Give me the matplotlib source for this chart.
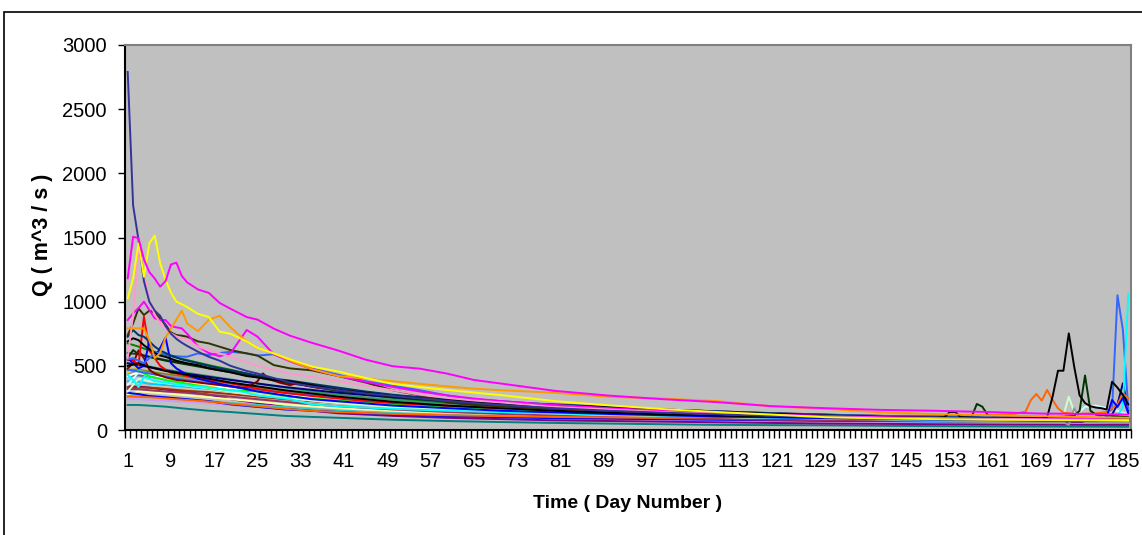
import matplotlib
matplotlib.use("Agg")
import matplotlib.pyplot as plt
from matplotlib.patches import Rectangle

plt.rcParams['font.family'] = ['Liberation Sans', 'DejaVu Sans']

# ---------------- data ----------------
GRID_A = [1, 2, 3, 4, 5, 6, 7, 8, 9, 10, 11, 12, 14, 16, 18, 20, 23, 25, 28, 31,
          35, 40, 45, 50, 55, 60, 65, 70, 80, 90, 100, 110, 120, 130, 140, 150, 160, 170, 180, 186]
GRID_B = [1, 3, 5, 8, 12, 16, 20, 25, 30, 35, 40, 50, 60, 70, 80, 90, 100, 110, 120, 130,
          140, 150, 160, 170, 180, 186]

X_TICK_LABELS = [1, 9, 17, 25, 33, 41, 49, 57, 65, 73, 81, 89, 97, 105, 113, 121, 129,
                 137, 145, 153, 161, 169, 177, 185]
Y_TICKS = [0, 500, 1000, 1500, 2000, 2500, 3000]

q_indigo = [2790, 1750, 1480, 1160, 1000, 930, 890, 810, 750, 710, 680, 655, 610, 570, 540, 500, 460, 440, 405, 370,
            340, 310, 285, 265, 245, 228, 210, 195, 170, 150, 135, 122, 110, 100, 92, 85, 80, 76, 72, 70]
q_magenta = [1182, 1506, 1494, 1330, 1230, 1180, 1117, 1160, 1290, 1304, 1200, 1150, 1095, 1068, 990, 945, 880, 860, 790, 735,
             680, 618, 548, 497, 478, 440, 390, 362, 305, 268, 240, 217, 186, 170, 157, 150, 140, 128, 125, 120]
q_yellow = [1026, 1180, 1455, 1194, 1455, 1515, 1299, 1170, 1070, 1000, 980, 958, 905, 880, 766, 750, 690, 640, 597, 550,
            495, 455, 405, 360, 335, 312, 292, 272, 225, 192, 163, 140, 120, 100, 91, 85, 80, 78, 75, 72]
q_orange = [792, 792, 792, 792, 700, 560, 600, 720, 790, 860, 930, 830, 770, 860, 890, 800, 690, 640, 597, 540,
            475, 420, 400, 380, 360, 340, 322, 310, 290, 258, 245, 225, 185, 165, 138, 125, 115, 108, 100, 95]
q_pink = [560, 900, 1416, 1221, 1000, 900, 831, 790, 753, 730, 715, 700, 649, 620, 597, 570, 530, 500, 470, 440,
          415, 380, 345, 310, 275, 250, 230, 215, 180, 160, 140, 125, 115, 100, 95, 90, 85, 82, 80, 78]
q_magenta2 = [857, 909, 950, 1000, 935, 870, 857, 857, 810, 800, 792, 750, 650, 600, 575, 597, 779, 727, 590, 535,
              475, 420, 375, 335, 300, 270, 245, 225, 195, 170, 150, 135, 120, 110, 100, 95, 90, 85, 85, 80]
q_olive = [740, 831, 948, 896, 930, 915, 870, 820, 760, 740, 735, 727, 690, 675, 649, 623, 597, 580, 506, 480,
           465, 420, 370, 310, 270, 215, 195, 183, 165, 150, 135, 125, 115, 105, 95, 90, 85, 80, 78, 75]
q_black1 = [690, 715, 700, 660, 630, 600, 580, 570, 555, 540, 530, 520, 505, 480, 465, 450, 420, 410, 390, 380,
            350, 310, 290, 262, 245, 232, 220, 210, 192, 175, 155, 140, 125, 112, 102, 95, 90, 85, 82, 80]
q_darknavy = [727, 779, 740, 727, 690, 650, 620, 600, 580, 565, 550, 540, 520, 500, 480, 465, 440, 425, 400, 385,
              360, 330, 300, 275, 255, 240, 228, 215, 200, 180, 160, 145, 130, 118, 105, 100, 95, 90, 86, 84]
q_blue1 = [550, 560, 540, 520, 560, 600, 600, 590, 580, 575, 572, 571, 597, 584, 600, 610, 597, 580, 590, 540,
           480, 430, 380, 345, 310, 270, 240, 225, 195, 175, 160, 145, 130, 120, 110, 105, 100, 95, 92, 90]
q_red = [545, 545, 506, 883, 620, 560, 500, 470, 445, 440, 430, 420, 400, 390, 380, 365, 340, 320, 300, 285,
         265, 245, 225, 210, 200, 190, 180, 170, 155, 140, 128, 118, 110, 100, 95, 90, 85, 82, 80, 78]

d_blue2 = [1, 2, 3, 4, 5, 6, 7, 8, 9, 10, 12, 14, 18, 25, 35, 50, 70, 90, 110, 130, 150, 170, 180, 182, 183, 184, 185, 186]
q_blue2 = [560, 520, 480, 500, 690, 560, 640, 720, 520, 480, 430, 400, 360, 300, 240, 190, 150, 125, 105, 92, 82, 75, 72, 100, 234, 180, 250, 130]

d_darkred = [1, 2, 3, 4, 5, 6, 8, 10, 12, 16, 20, 23, 25, 26, 27, 29, 31, 32, 33, 34, 36, 40, 50, 60, 70, 80, 90, 100,
             110, 120, 130, 140, 150, 160, 170, 180, 186]
q_darkred = [480, 520, 620, 560, 470, 440, 410, 390, 380, 360, 340, 325, 380, 441, 400, 370, 350, 360, 364, 345, 330, 310,
             270, 240, 215, 195, 175, 160, 145, 132, 120, 110, 102, 96, 92, 88, 86]

q_green = [675, 650, 620, 585, 545, 505, 470, 420, 380, 340, 300, 250, 215, 190, 170, 155, 140, 128, 118, 110, 102, 98, 94, 90, 88, 86]

d_darkgreen = [1, 2, 3, 4, 6, 8, 12, 16, 20, 25, 30, 35, 40, 50, 60, 70, 80, 90, 100, 110, 120, 130, 140, 150, 155, 157,
               158, 159, 160, 162, 170, 176, 177, 178, 179, 180, 186]
q_darkgreen = [560, 623, 590, 580, 560, 540, 510, 480, 450, 410, 370, 340, 310, 260, 225, 200, 178, 160, 145, 132, 120, 112,
               105, 100, 98, 100, 203, 182, 117, 100, 96, 110, 150, 425, 150, 120, 100]

d_black2 = [1, 3, 5, 8, 12, 16, 20, 25, 30, 35, 40, 50, 60, 70, 80, 90, 100, 110, 120, 130, 140, 150, 152, 153, 154, 155,
            160, 170, 171, 172, 173, 174, 175, 176, 177, 178, 179, 180, 181, 182, 183, 184, 185, 186]
q_black2 = [500, 520, 490, 460, 430, 400, 370, 340, 310, 285, 260, 220, 190, 170, 150, 135, 122, 112, 105, 100, 96, 92, 100,
            140, 140, 100, 92, 90, 100, 260, 462, 462, 753, 493, 270, 210, 185, 175, 170, 160, 376, 330, 273, 200]

d_orange2 = [1, 5, 10, 15, 20, 25, 30, 35, 40, 50, 60, 70, 80, 90, 100, 110, 120, 130, 140, 150, 160, 165, 166, 167, 168,
             169, 170, 171, 172, 173, 174, 176, 180, 182, 184, 185, 186]
q_orange2 = [260, 255, 240, 225, 205, 185, 165, 150, 140, 125, 115, 108, 102, 98, 95, 100, 105, 108, 110, 112, 115, 125, 135,
             143, 234, 281, 229, 312, 234, 169, 135, 125, 130, 140, 200, 286, 247]

d_cyan = [1, 2, 3, 4, 5, 6, 8, 10, 14, 18, 22, 25, 31, 35, 40, 50, 60, 70, 80, 90, 100, 110, 120, 130, 140, 150, 160,
          170, 175, 180, 183, 184, 185, 186]
q_cyan = [430, 390, 335, 415, 400, 380, 370, 355, 340, 320, 300, 270, 240, 200, 185, 165, 150, 140, 130, 120, 110, 102, 96,
          90, 85, 82, 80, 78, 80, 120, 100, 110, 180, 1060]

d_blue3 = [1, 5, 10, 20, 30, 40, 50, 60, 70, 80, 90, 100, 110, 120, 130, 140, 150, 160, 170, 180, 182, 183, 184, 185, 186]
q_blue3 = [470, 440, 400, 340, 290, 250, 215, 190, 170, 155, 140, 128, 118, 110, 102, 96, 92, 88, 85, 82, 140, 160, 1050, 780, 160]

d_navy = [1, 5, 10, 20, 30, 40, 50, 60, 70, 80, 90, 100, 110, 120, 130, 140, 150, 160, 170, 180, 182, 183, 184, 185, 186]
q_navy = [520, 490, 450, 390, 335, 290, 255, 225, 200, 180, 165, 150, 138, 125, 115, 106, 98, 92, 86, 80, 80, 120, 200, 364, 150]

q_teal = [195, 195, 190, 182, 165, 150, 140, 125, 110, 102, 95, 80, 70, 62, 55, 50, 45, 40, 38, 36, 33, 30, 28, 27, 26, 25]
q_bluelow = [290, 280, 265, 255, 240, 225, 200, 180, 160, 150, 140, 120, 108, 100, 92, 88, 84, 80, 76, 72, 70, 68, 66, 64, 62, 60]
q_purple = [340, 338, 330, 315, 295, 275, 240, 210, 180, 150, 130, 110, 95, 85, 75, 70, 65, 60, 55, 50, 48, 45, 43, 42, 40, 40]
q_plum = [320, 318, 310, 300, 290, 275, 260, 240, 220, 200, 185, 160, 140, 125, 112, 100, 92, 85, 80, 76, 72, 70, 68, 66, 64, 62]
q_brown = [330, 332, 330, 320, 305, 295, 280, 260, 240, 225, 210, 185, 165, 150, 138, 128, 120, 113, 106, 100, 96, 92, 90, 88, 86, 85]
q_sky = [380, 375, 360, 350, 335, 320, 300, 280, 260, 240, 220, 190, 170, 155, 142, 130, 120, 112, 105, 100, 96, 92, 90, 88, 86, 85]
q_gold = [450, 480, 420, 400, 370, 345, 320, 290, 265, 240, 220, 190, 170, 150, 135, 125, 115, 108, 100, 95, 90, 86, 82, 80, 78, 76]
q_lightyellow = [280, 300, 295, 285, 270, 255, 240, 220, 200, 185, 170, 150, 135, 122, 112, 104, 98, 92, 88, 84, 80, 78, 76, 74, 72, 70]
q_lavender = [240, 240, 235, 228, 218, 208, 195, 180, 165, 150, 140, 120, 105, 95, 88, 82, 78, 74, 70, 66, 63, 60, 58, 56, 55, 54]
q_aqua = [270, 268, 260, 250, 238, 225, 210, 195, 180, 165, 152, 132, 118, 108, 100, 94, 88, 82, 78, 74, 70, 66, 62, 60, 58, 56]
q_seagreen = [520, 510, 495, 470, 445, 420, 395, 360, 330, 300, 275, 235, 205, 182, 165, 150, 138, 127, 118, 110, 103, 97, 93, 90, 87, 85]
q_bluegray = [420, 425, 415, 400, 380, 360, 340, 310, 285, 260, 240, 205, 180, 160, 145, 132, 122, 114, 107, 100, 95, 90, 86, 83, 80, 78]
q_tan = [360, 370, 360, 345, 330, 315, 295, 270, 250, 230, 210, 180, 160, 145, 132, 120, 110, 102, 96, 90, 86, 82, 80, 78, 76, 74]
q_paleblue = [400, 410, 400, 385, 365, 345, 325, 295, 270, 245, 225, 195, 172, 155, 140, 128, 118, 110, 103, 97, 92, 88, 85, 82, 80, 78]
q_olive2 = [470, 470, 455, 435, 410, 385, 360, 330, 300, 275, 250, 215, 190, 170, 155, 142, 130, 120, 112, 105, 100, 95, 90, 88, 86, 84]
q_gray80 = [600, 590, 570, 545, 515, 485, 455, 415, 380, 350, 320, 270, 232, 205, 185, 168, 152, 140, 128, 118, 110, 104, 98, 94, 90, 88]

d_white = [1, 3, 5, 8, 12, 16, 20, 25, 30, 35, 40, 50, 60, 70, 80, 90, 100, 110, 120, 130, 140, 150, 160, 162, 163, 164, 165, 170, 180, 186]
q_white = [420, 450, 430, 400, 375, 355, 320, 295, 270, 250, 235, 210, 190, 170, 155, 145, 135, 128, 120, 115, 110, 105, 100, 100, 117, 117, 100, 98, 95, 92]

d_gray = [1, 3, 5, 8, 12, 16, 20, 25, 30, 40, 50, 60, 70, 80, 90, 100, 110, 120, 130, 140, 150, 160, 170, 174, 175, 176, 177, 178, 186]
q_gray = [430, 470, 440, 425, 400, 375, 350, 320, 290, 250, 215, 190, 170, 150, 135, 120, 110, 100, 90, 80, 70, 62, 58, 60, 40, 170, 90, 60, 55]

d_lightgreen = [1, 3, 5, 8, 12, 16, 20, 25, 30, 40, 50, 60, 70, 80, 90, 100, 110, 120, 130, 140, 150, 160, 170, 174, 175, 176, 177, 186]
q_lightgreen = [300, 400, 380, 365, 345, 325, 300, 275, 250, 210, 180, 160, 145, 132, 122, 112, 105, 100, 95, 92, 90, 88, 86, 110, 260, 140, 100, 95]

d_lightturq = [1, 3, 5, 8, 12, 16, 20, 25, 30, 35, 40, 50, 60, 70, 80, 90, 100, 110, 120, 130, 140, 150, 160, 170, 176, 178, 180, 182, 184, 186]
q_lightturq = [350, 450, 420, 400, 380, 360, 340, 310, 285, 260, 240, 210, 185, 165, 150, 138, 128, 120, 112, 105, 100, 96, 92, 90, 100, 180, 190, 170, 150, 120]

d_lime = [1, 3, 5, 8, 12, 16, 20, 25, 28, 31, 35, 40, 50, 60, 70, 80, 90, 100, 110, 120, 130, 140, 150, 160, 170, 180, 186]
q_lime = [470, 460, 420, 390, 360, 330, 310, 300, 280, 260, 245, 230, 200, 175, 160, 148, 135, 122, 112, 105, 98, 92, 88, 85, 82, 80, 78]

# drawing order: first drawn is at the bottom
series = [
    (GRID_B, q_teal, '#008080'),
    (GRID_B, q_lavender, '#CC99FF'),
    (GRID_B, q_purple, '#800080'),
    (GRID_B, q_aqua, '#33CCCC'),
    (GRID_B, q_lightyellow, '#FFFF99'),
    (GRID_B, q_bluelow, '#0000FF'),
    (GRID_B, q_plum, '#993366'),
    (GRID_B, q_brown, '#993300'),
    (GRID_B, q_tan, '#FFCC99'),
    (GRID_B, q_sky, '#00CCFF'),
    (GRID_B, q_paleblue, '#99CCFF'),
    (GRID_B, q_bluegray, '#666699'),
    (GRID_B, q_gold, '#FFCC00'),
    (GRID_B, q_olive2, '#808000'),
    (GRID_B, q_seagreen, '#339966'),
    (GRID_B, q_gray80, '#333333'),
    (d_lightturq, q_lightturq, '#CCFFFF'),
    (d_lightgreen, q_lightgreen, '#CCFFCC'),
    (d_gray, q_gray, '#969696'),
    (d_white, q_white, '#FFFFFF'),
    (d_lime, q_lime, '#00FF00'),
    (GRID_B, q_green, '#008000'),
    (d_navy, q_navy, '#000080'),
    (d_blue3, q_blue3, '#3366FF'),
    (d_cyan, q_cyan, '#00FFFF'),
    (d_orange2, q_orange2, '#FF6600'),
    (d_darkgreen, q_darkgreen, '#003300'),
    (d_darkred, q_darkred, '#800000'),
    (GRID_A, q_red, '#FF0000'),
    (d_blue2, q_blue2, '#0000FF'),
    (GRID_A, q_blue1, '#3366FF'),
    (GRID_A, q_darknavy, '#003366'),
    (GRID_A, q_black1, '#000000'),
    (d_black2, q_black2, '#000000'),
    (GRID_A, q_olive, '#333300'),
    (GRID_A, q_magenta2, '#FF00FF'),
    (GRID_A, q_pink, '#FF99CC'),
    (GRID_A, q_orange, '#FF9900'),
    (GRID_A, q_indigo, '#333399'),
    (GRID_A, q_yellow, '#FFFF00'),
    (GRID_A, q_magenta, '#FF00FF'),
]

# ---------------- figure ----------------
W, H = 1142, 535
fig = plt.figure(figsize=(W / 100, H / 100), dpi=100)
fig.patch.set_facecolor('white')

ax = fig.add_axes([125 / W, 1 - 430 / H, (1131 - 125) / W, (430 - 45) / H])
ax.set_facecolor('#C0C0C0')

for days, vals, col in series:
    ax.plot(days, vals, color=col, lw=1.4, solid_joinstyle='round')

ax.set_xlim(0.5, 186.5)
ax.set_ylim(0, 3000)
ax.set_yticks(Y_TICKS)
ax.set_xticks(X_TICK_LABELS)
ax.set_xticklabels([str(v) for v in X_TICK_LABELS])
ax.set_xticks([i + 0.5 for i in range(0, 187)], minor=True)

ax.tick_params(axis='x', which='major', length=0, pad=16, labelsize=14.5)
ax.tick_params(axis='x', which='minor', length=6, width=1, direction='out', color='black')
ax.tick_params(axis='y', which='major', length=5, width=1, direction='out', pad=8, labelsize=14.5)

for s in ['left', 'bottom']:
    ax.spines[s].set_color('black')
    ax.spines[s].set_linewidth(1.5)
for s in ['top', 'right']:
    ax.spines[s].set_color('#808080')
    ax.spines[s].set_linewidth(1.5)

fig.text(628 / W, 1 - 503 / H, 'Time ( Day Number )', ha='center', va='center',
         fontsize=14, fontweight='bold')
fig.text(43 / W, 1 - 235 / H, 'Q ( m^3 / s )', ha='center', va='center',
         rotation=90, fontsize=15.5, fontweight='bold')

frame = Rectangle((4 / W, -0.2), 1.5, (1 - 12 / H) + 0.2, transform=fig.transFigure,
                  fill=False, edgecolor='black', lw=1.2, clip_on=False)
fig.patches.append(frame)

fig.savefig('out.png', dpi=100, facecolor='white')
